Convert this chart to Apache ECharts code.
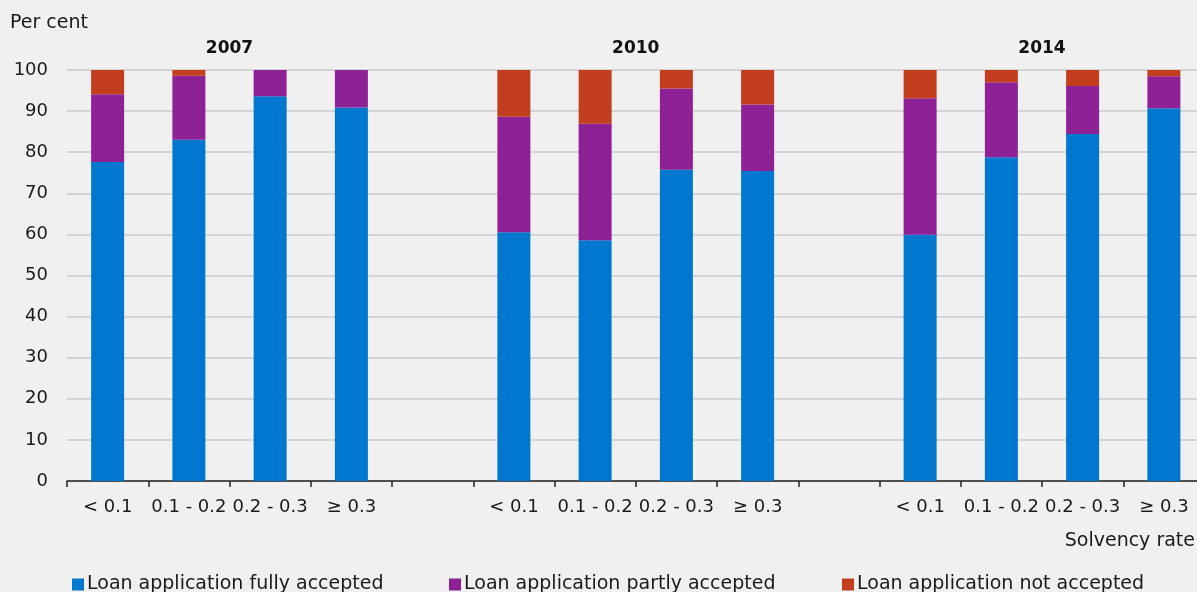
<!DOCTYPE html>
<html>
<head>
<meta charset="utf-8">
<script src="https://cdn.jsdelivr.net/npm/echarts@6/dist/echarts.min.js"></script>
<style>
  html, body { margin: 0; padding: 0; background: #f0f0f0; }
  #main { width: 1197px; height: 592px; }
</style>
</head>
<body>
<div id="main"></div>
<script>
// categories: three years of four solvency groups, blank slot between years
const categories = ['< 0.1', '0.1 - 0.2', '0.2 - 0.3', '≥ 0.3', '',
                    '< 0.1', '0.1 - 0.2', '0.2 - 0.3', '≥ 0.3', '',
                    '< 0.1', '0.1 - 0.2', '0.2 - 0.3', '≥ 0.3']
const years = ['2007', '2010', '2014']

// values (per cent)
const fullyAccepted  = [77.6, 83.0, 93.6, 90.9, null, 60.5, 58.6, 75.7, 75.4, null, 59.9, 78.8, 84.4, 90.7]
const partlyAccepted = [16.5, 15.6, 6.4, 9.1, null, 28.1, 28.3, 19.8, 16.2, null, 33.2, 18.2, 11.7, 7.8]
const notAccepted    = [5.9, 1.4, 0, 0, null, 11.4, 13.1, 4.5, 8.4, null, 6.9, 3.0, 3.9, 1.5]

const seriesNames = ['Loan application fully accepted', 'Loan application partly accepted', 'Loan application not accepted']
const colors = ['#0078d0', '#8e2196', '#c33d1f']

const font = 'DejaVu Sans'
let myChart = echarts.init(document.getElementById('main'))

function legendAt (name, left) {
  return {
    data: [name],
    left: left,
    top: 570,
    itemWidth: 12,
    itemHeight: 12,
    itemGap: 4,
    icon: 'rect',
    selectedMode: false,
    textStyle: { fontFamily: font, fontSize: 19, color: '#1a1a1a', padding: [0, 0, 0, -2] }
  }
}

function barSeries (name, data, color) {
  return {
    name: name,
    type: 'bar',
    stack: 'total',
    barWidth: 33,
    data: data,
    itemStyle: { color: color },
    emphasis: { disabled: true }
  }
}

myChart.setOption({
  backgroundColor: '#f0f0f0',
  animation: false,
  color: colors,
  // the plot runs a little past the right edge, as in the original
  grid: { left: 67, width: 1137.5, top: 70, height: 411, outerBoundsMode: 'none', containLabel: false },
  legend: [
    legendAt(seriesNames[0], 67),
    legendAt(seriesNames[1], 444),
    legendAt(seriesNames[2], 837)
  ],
  xAxis: {
    type: 'category',
    data: categories,
    axisLine: { lineStyle: { color: '#222', width: 1.5 } },
    axisTick: { show: true, length: 6, lineStyle: { color: '#222', width: 1.5 } },
    axisLabel: { fontFamily: font, fontSize: 18, color: '#1a1a1a', margin: 17, interval: 0 }
  },
  yAxis: {
    type: 'value',
    min: 0,
    max: 100,
    interval: 10,
    axisLine: { show: false },
    axisTick: { show: false },
    axisLabel: { fontFamily: font, fontSize: 18, color: '#1a1a1a', margin: 19 },
    splitLine: { lineStyle: { color: '#d4d4d4', width: 2 } }
  },
  series: [
    barSeries(seriesNames[0], fullyAccepted, colors[0]),
    barSeries(seriesNames[1], partlyAccepted, colors[1]),
    barSeries(seriesNames[2], notAccepted, colors[2])
  ]
})

// year labels sit over the middle of each group of four
let yearGraphics = years.map(function (y, i) {
  let a = myChart.convertToPixel({ xAxisIndex: 0 }, i * 5 + 1)
  let b = myChart.convertToPixel({ xAxisIndex: 0 }, i * 5 + 2)
  return {
    type: 'text',
    x: (a + b) / 2,
    y: 49,
    style: {
      text: y,
      font: 'bold 17px "DejaVu Sans"',
      fill: '#111',
      align: 'center',
      verticalAlign: 'middle'
    }
  }
})

myChart.setOption({
  graphic: [
    {
      type: 'text', x: 10, y: 23,
      style: { text: 'Per cent', font: '19px "DejaVu Sans"', fill: '#1a1a1a', verticalAlign: 'middle' }
    },
    {
      type: 'text', x: 1195, y: 541,
      style: { text: 'Solvency rate', font: '19px "DejaVu Sans"', fill: '#1a1a1a', align: 'right', verticalAlign: 'middle' }
    }
  ].concat(yearGraphics)
})
</script>
</body>
</html>
